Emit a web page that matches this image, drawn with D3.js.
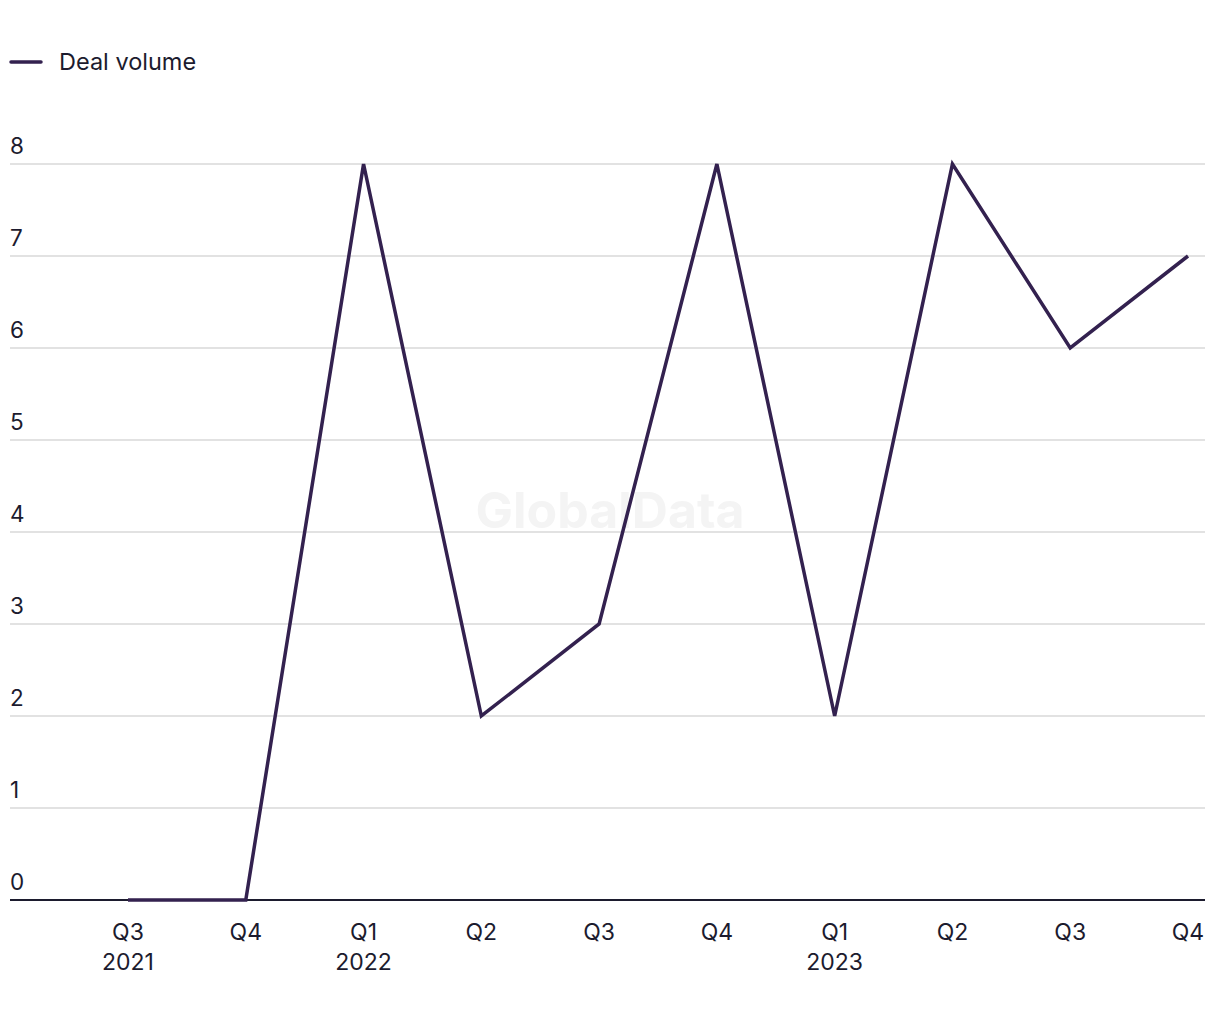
<!DOCTYPE html>
<html>
<head>
<meta charset="utf-8">
<script src="https://cdn.jsdelivr.net/npm/d3@7"></script>
<style>
  body { margin: 0; background: #fff; }
  text { font-family: Inter, "Noto Sans", sans-serif; fill: #1c1b2e; }
</style>
</head>
<body>
<div id="chart"></div>
<script>
const quarters = ["Q3", "Q4", "Q1", "Q2", "Q3", "Q4", "Q1", "Q2", "Q3", "Q4"];
const years = ["2021", "", "2022", "", "", "", "2023", "", "", ""];
const dealVolume = [0, 0, 8, 2, 3, 8, 2, 8, 6, 7];
const yTicks = [0, 1, 2, 3, 4, 5, 6, 7, 8];

const width = 1220, height = 1020;
const lineColor = "#33214f";

const svg = d3.select("#chart").append("svg")
  .attr("width", width)
  .attr("height", height);

const idx = d3.range(quarters.length);

const x = d3.scalePoint()
  .domain(idx)
  .range([128, 1188]);

const y = d3.scaleLinear()
  .domain([0, 8])
  .range([900, 164]);

// gridlines + y labels
const grid = svg.append("g");
grid.selectAll("line")
  .data(yTicks.filter(d => d > 0))
  .join("line")
  .attr("x1", 10).attr("x2", 1205)
  .attr("y1", d => y(d)).attr("y2", d => y(d))
  .attr("stroke", "#d9d9d9")
  .attr("stroke-width", 1.5);

grid.selectAll("text")
  .data(yTicks)
  .join("text")
  .attr("x", 10)
  .attr("y", d => y(d) - 10)
  .attr("font-size", 22.5)
  .text(d => d);

// watermark
svg.append("text")
  .attr("x", 610)
  .attr("y", 528)
  .attr("text-anchor", "middle")
  .attr("font-size", 50)
  .attr("font-weight", 700)
  .style("fill", "#f4f4f4")
  .text("GlobalData");

// baseline
svg.append("line")
  .attr("x1", 10).attr("x2", 1205)
  .attr("y1", y(0)).attr("y2", y(0))
  .attr("stroke", "#1c1b2e")
  .attr("stroke-width", 2);

// x labels
const xl = svg.append("g");
xl.selectAll("text.q")
  .data(idx)
  .join("text")
  .attr("class", "q")
  .attr("x", d => x(d))
  .attr("y", 940)
  .attr("text-anchor", "middle")
  .attr("font-size", 23)
  .text(d => quarters[d]);

xl.selectAll("text.yr")
  .data(idx.filter(i => years[i]))
  .join("text")
  .attr("class", "yr")
  .attr("x", d => x(d))
  .attr("y", 970)
  .attr("text-anchor", "middle")
  .attr("font-size", 23)
  .text(d => years[d]);

// line
const line = d3.line()
  .x((d, i) => x(i))
  .y(d => y(d));

svg.append("path")
  .datum(dealVolume)
  .attr("fill", "none")
  .attr("stroke", lineColor)
  .attr("stroke-width", 3.5)
  .attr("stroke-linejoin", "miter")
  .attr("d", line);

// legend
const legend = svg.append("g");
legend.append("line")
  .attr("x1", 11).attr("x2", 41)
  .attr("y1", 62).attr("y2", 62)
  .attr("stroke", lineColor)
  .attr("stroke-width", 3.5)
  .attr("stroke-linecap", "round");
legend.append("text")
  .attr("x", 59)
  .attr("y", 70)
  .attr("font-size", 23.5)
  .text("Deal volume");
</script>
</body>
</html>
